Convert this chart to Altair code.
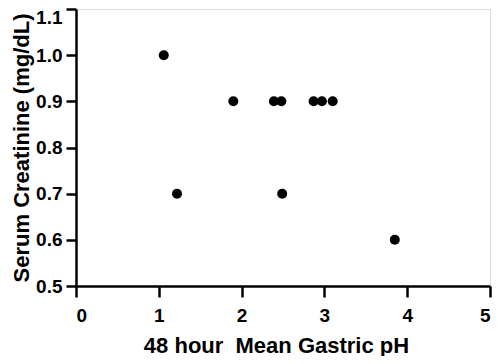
import altair as alt
import pandas as pd

ph = [1.06, 1.22, 1.90, 2.39, 2.48, 2.49, 2.87, 2.97, 3.10, 3.85]
creat = [1.0, 0.7, 0.9, 0.9, 0.9, 0.7, 0.9, 0.9, 0.9, 0.6]
x_ticks = [0, 1, 2, 3, 4, 5]
y_ticks = [0.5, 0.6, 0.7, 0.8, 0.9, 1.0, 1.1]

df = pd.DataFrame({"ph": ph, "creat": creat})

FONT = "Liberation Sans"

chart = alt.Chart(df).mark_circle(size=100, color="black", opacity=1).encode(
    x=alt.X("ph:Q", scale=alt.Scale(domain=[0, 5], nice=False, zero=False),
            axis=alt.Axis(values=x_ticks, format="d", title="48 hour\u00a0 Mean Gastric pH",
                          grid=False, domainColor="black", domainWidth=2.5,
                          tickColor="black", tickWidth=2.5, tickSize=11,
                          labelFont=FONT, labelFontSize=19, labelFontWeight="bold",
                          labelColor="black", labelPadding=9,
                          titleFont=FONT, titleFontSize=22, titleFontWeight="bold",
                          titleColor="black", titlePadding=10,
                          titleX=200, titleAlign="center")),
    y=alt.Y("creat:Q", scale=alt.Scale(domain=[0.5, 1.1], nice=False, zero=False),
            axis=alt.Axis(values=y_ticks, format=".1f", title="Serum Creatinine (mg/dL)",
                          grid=False, domainColor="black", domainWidth=2.5,
                          tickColor="black", tickWidth=2.5, tickSize=10,
                          labelFont=FONT, labelFontSize=19, labelFontWeight="bold",
                          labelColor="black", labelPadding=4,
                          labelOffset={"condition": {"test": "datum.value > 1.05", "value": 8}, "value": 0},
                          titleFont=FONT, titleFontSize=22, titleFontWeight="bold",
                          titleColor="black", titlePadding=2)),
).properties(
    width=414, height=277,
    autosize=alt.AutoSizeParams(type="none"),
    padding={"left": 68, "top": 1, "right": 2, "bottom": 70},
).configure_view(stroke=None).configure(background="white")

chart.save("out.html", embed_options={"renderer": "svg", "actions": False})
